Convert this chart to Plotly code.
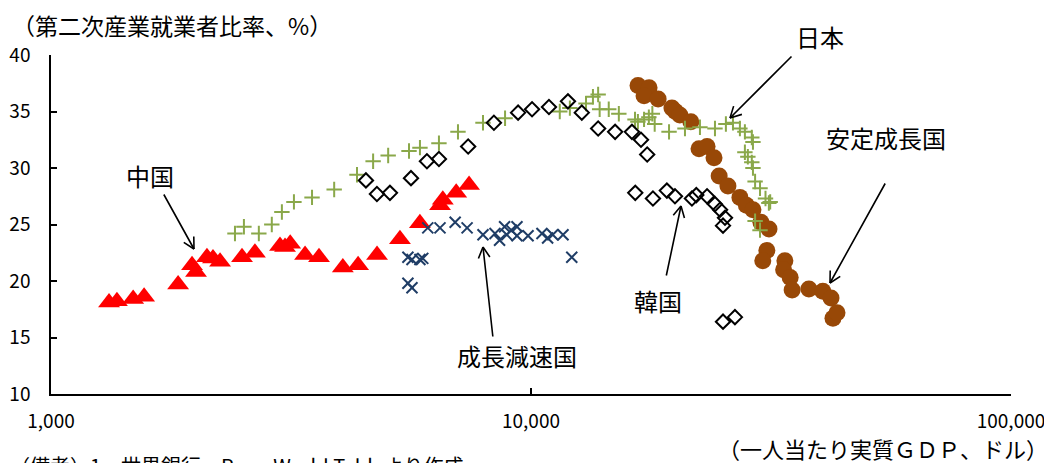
import math
import plotly.graph_objects as go

# ---------------- data ----------------
china_gdp = [1321, 1372, 1483, 1563, 1840, 1967, 2005, 2113, 2175, 2250, 2500, 2660, 3000, 3073,
             3150, 3383, 3617, 4055, 4363, 4778, 5333, 5869, 6463, 6550, 6985, 7430]
china_ind = [18.1, 18.2, 18.4, 18.6, 19.7, 21.4, 20.8, 22.1, 22.0, 21.7, 22.1, 22.5, 23.1, 23.0,
             23.3, 22.3, 22.1, 21.2, 21.4, 22.3, 23.7, 25.1, 26.7, 27.2, 27.8, 28.5]

slow_gdp = [5541, 5650, 5869, 5950, 5541, 5650, 6095, 6463, 6950, 7360, 7943, 8414, 8600, 8810,
            8900, 9100, 9350, 9350, 9860, 10540, 10830, 11100, 11660, 12160]
slow_ind = [22.1, 21.9, 21.9, 22.0, 19.8, 19.4, 24.7, 24.7, 25.2, 24.7, 24.1, 24.2, 23.6, 24.8,
            24.1, 24.5, 24.8, 24.0, 24.0, 24.2, 23.8, 24.1, 24.1, 22.1]

japan_gdp = [2417, 2523, 2710, 2884, 3027, 3207, 3498, 3890, 4340, 4689, 5040, 5570, 5870, 6430,
             7045, 7943, 8830, 11480, 12050, 13020, 13460, 13800, 13900, 14520, 15240, 16470,
             16700, 17200, 17600, 17900, 18100, 19390, 20930, 22490, 24170, 25470, 26350, 27240,
             27900, 28840, 29000, 27900, 28300, 28840, 29000, 29300, 30000, 30800, 31300, 31500,
             29300, 30000]
japan_ind = [24.2, 24.8, 24.2, 25.0, 26.1, 27.0, 27.4, 28.1, 29.4, 30.6, 31.1, 31.5, 31.8, 32.2,
             33.2, 34.0, 34.4, 35.0, 35.3, 35.7, 36.3, 36.5, 35.2, 35.2, 34.8, 34.3,
             34.1, 34.3, 34.5, 34.8, 33.9, 33.2, 33.5, 33.6, 33.5, 33.9, 34.0, 33.5,
             33.2, 32.7, 32.3, 31.4, 31.0, 30.5, 30.0, 28.8, 28.2, 27.3, 26.9, 27.0,
             25.3, 24.5]

korea_gdp = [4530, 4775, 5083, 5623, 6070, 6430, 7397, 8370, 9400, 10050, 10900, 11940, 12760,
             13800, 14970, 16230, 16950, 17460, 16490, 17950, 19190, 19950, 21640, 22100, 23270,
             24170, 24770, 25360, 25120, 25120, 26600]
korea_ind = [28.9, 27.7, 27.8, 29.1, 30.6, 30.8, 31.9, 34.0, 34.9, 35.2, 35.4, 35.9, 34.9,
             33.5, 33.2, 33.2, 32.5, 31.2, 27.8, 27.3, 28.0, 27.5, 27.3, 27.6, 27.5,
             26.8, 26.3, 25.6, 24.9, 16.4, 16.8]

stable_gdp = [16710, 17620, 17200, 18400, 19660, 20000, 20420, 21530, 22390, 23270, 24060, 24660,
              25720, 27240, 28100, 29000, 30130, 31320, 31000, 30400, 33800, 33600, 34670, 35000,
              37930, 40550, 42170, 42570, 43400]
stable_ind = [37.3, 37.1, 36.4, 36.1, 35.3, 35.0, 34.7, 34.1, 31.7, 31.9, 30.9, 29.3,
              28.4, 27.4, 26.7, 26.3, 25.2, 24.6, 22.7, 21.8, 21.8, 21.0, 20.3, 19.2,
              19.3, 19.1, 18.5, 16.7, 17.2]

x_tickvals = [1000, 10000, 100000]
x_ticktext = ["1,000", "10,000", "100,000"]
y_tickvals = [10, 15, 20, 25, 30, 35, 40]

y_title = "（第二次産業就業者比率、%）"
x_title = "（一人当たり実質ＧＤＰ、ドル）"
note_text = "（備考）1．世界銀行、Penn World Tableより作成。"

# ---------------- layout constants ----------------
# the page body has an 8px default margin, so the figure is made smaller and
# all page-pixel positions are shifted by that offset
OFF = 8
W, H = 1052 - OFF, 463 - OFF
ML, MR, MT, MB = 51 - OFF, 41, 55 - OFF, 69
PW, PH = W - ML - MR, H - MT - MB
FONT = "Noto Sans CJK JP"


def px(xp):
    return (xp - OFF - ML) / PW


def py(yp):
    return (MT + PH - (yp - OFF)) / PH


fig = go.Figure()

fig.add_trace(go.Scatter(x=china_gdp, y=china_ind, mode="markers", name="中国",
                         marker=dict(symbol="triangle-up", size=19, color="#FF0000",
                                     line=dict(width=0))))
fig.add_trace(go.Scatter(x=stable_gdp, y=stable_ind, mode="markers", name="安定成長国",
                         marker=dict(symbol="circle", size=17, color="#984807",
                                     line=dict(width=0))))
fig.add_trace(go.Scatter(x=japan_gdp, y=japan_ind, mode="markers", name="日本",
                         marker=dict(symbol="cross-thin-open", size=11, color="#8AA84A",
                                     line=dict(width=2, color="#8AA84A"))))
fig.add_trace(go.Scatter(x=korea_gdp, y=korea_ind, mode="markers", name="韓国",
                         marker=dict(symbol="diamond-open", size=11, color="#000000",
                                     line=dict(width=2, color="#000000"))))
fig.add_trace(go.Scatter(x=slow_gdp, y=slow_ind, mode="markers", name="成長減速国",
                         marker=dict(symbol="x-thin-open", size=11, color="#1F3D66",
                                     line=dict(width=2, color="#1F3D66"))))

annotations = []

# text labels
labels = [("中国", 150, 175), ("成長減速国", 517, 355), ("日本", 820, 37),
          ("安定成長国", 886, 137), ("韓国", 658, 300)]
for t, x0, y0 in labels:
    annotations.append(dict(text=t, x=px(x0), y=py(y0), xref="paper", yref="paper",
                            showarrow=False, xanchor="center", yanchor="middle",
                            font=dict(family=FONT, size=24, color="#000000")))

# arrows: (tail pixel, head pixel)
arrows = [((163, 193), (194, 249)), ((493, 338), (483, 247)), ((793, 55), (730, 118)),
          ((886, 182), (830, 283)), ((666, 277), (681, 206))]
for (tx, ty), (hx, hy) in arrows:
    annotations.append(dict(text="", x=px(hx), y=py(hy), xref="paper", yref="paper",
                            ax=tx - hx, ay=ty - hy, axref="pixel", ayref="pixel",
                            showarrow=True, arrowhead=0, arrowwidth=1.6,
                            arrowcolor="#000000", standoff=0, startstandoff=0))
    dx, dy = tx - hx, ty - hy
    L = math.hypot(dx, dy)
    ux, uy = dx / L, dy / L
    for ang in (28, -28):
        a = math.radians(ang)
        wx = (ux * math.cos(a) - uy * math.sin(a)) * 14
        wy = (ux * math.sin(a) + uy * math.cos(a)) * 14
        annotations.append(dict(text="", x=px(hx), y=py(hy), xref="paper", yref="paper",
                                ax=wx, ay=wy, axref="pixel", ayref="pixel",
                                showarrow=True, arrowhead=0, arrowwidth=1.6,
                                arrowcolor="#000000", standoff=0, startstandoff=0))

# titles and note
annotations.append(dict(text=y_title, x=px(10), y=py(25), xref="paper", yref="paper",
                        showarrow=False, xanchor="left", yanchor="middle",
                        font=dict(family=FONT, size=23, color="#000000")))
annotations.append(dict(text=x_title, x=px(1050), y=py(448), xref="paper", yref="paper",
                        showarrow=False, xanchor="right", yanchor="middle",
                        font=dict(family=FONT, size=22, color="#000000")))
annotations.append(dict(text=note_text, x=px(OFF), y=py(466), xref="paper", yref="paper",
                        showarrow=False, xanchor="left", yanchor="middle",
                        font=dict(family=FONT, size=20, color="#000000")))

fig.update_layout(
    width=W, height=H,
    margin=dict(l=ML, r=MR, t=MT, b=MB, pad=0, autoexpand=False),
    paper_bgcolor="#FFFFFF", plot_bgcolor="#FFFFFF",
    showlegend=False,
    annotations=annotations,
    font=dict(family=FONT, color="#000000"),
)
fig.update_xaxes(type="log", range=[3, 5], tickvals=x_tickvals, ticktext=x_ticktext,
                 ticks="inside", ticklen=6, tickwidth=1.5, tickcolor="#000000",
                 showline=True, linecolor="#000000", linewidth=1.5, showgrid=False,
                 zeroline=False, tickfont=dict(family=FONT, size=19, color="#000000"),
                 ticklabelstandoff=9, automargin=False)
fig.update_yaxes(range=[10, 40], tickvals=y_tickvals,
                 ticks="inside", ticklen=6, tickwidth=1.5, tickcolor="#000000",
                 showline=True, linecolor="#000000", linewidth=1.5, showgrid=False,
                 zeroline=False, tickfont=dict(family=FONT, size=19, color="#000000"),
                 ticklabelstandoff=15, automargin=False)

fig.write_html("out.html")
